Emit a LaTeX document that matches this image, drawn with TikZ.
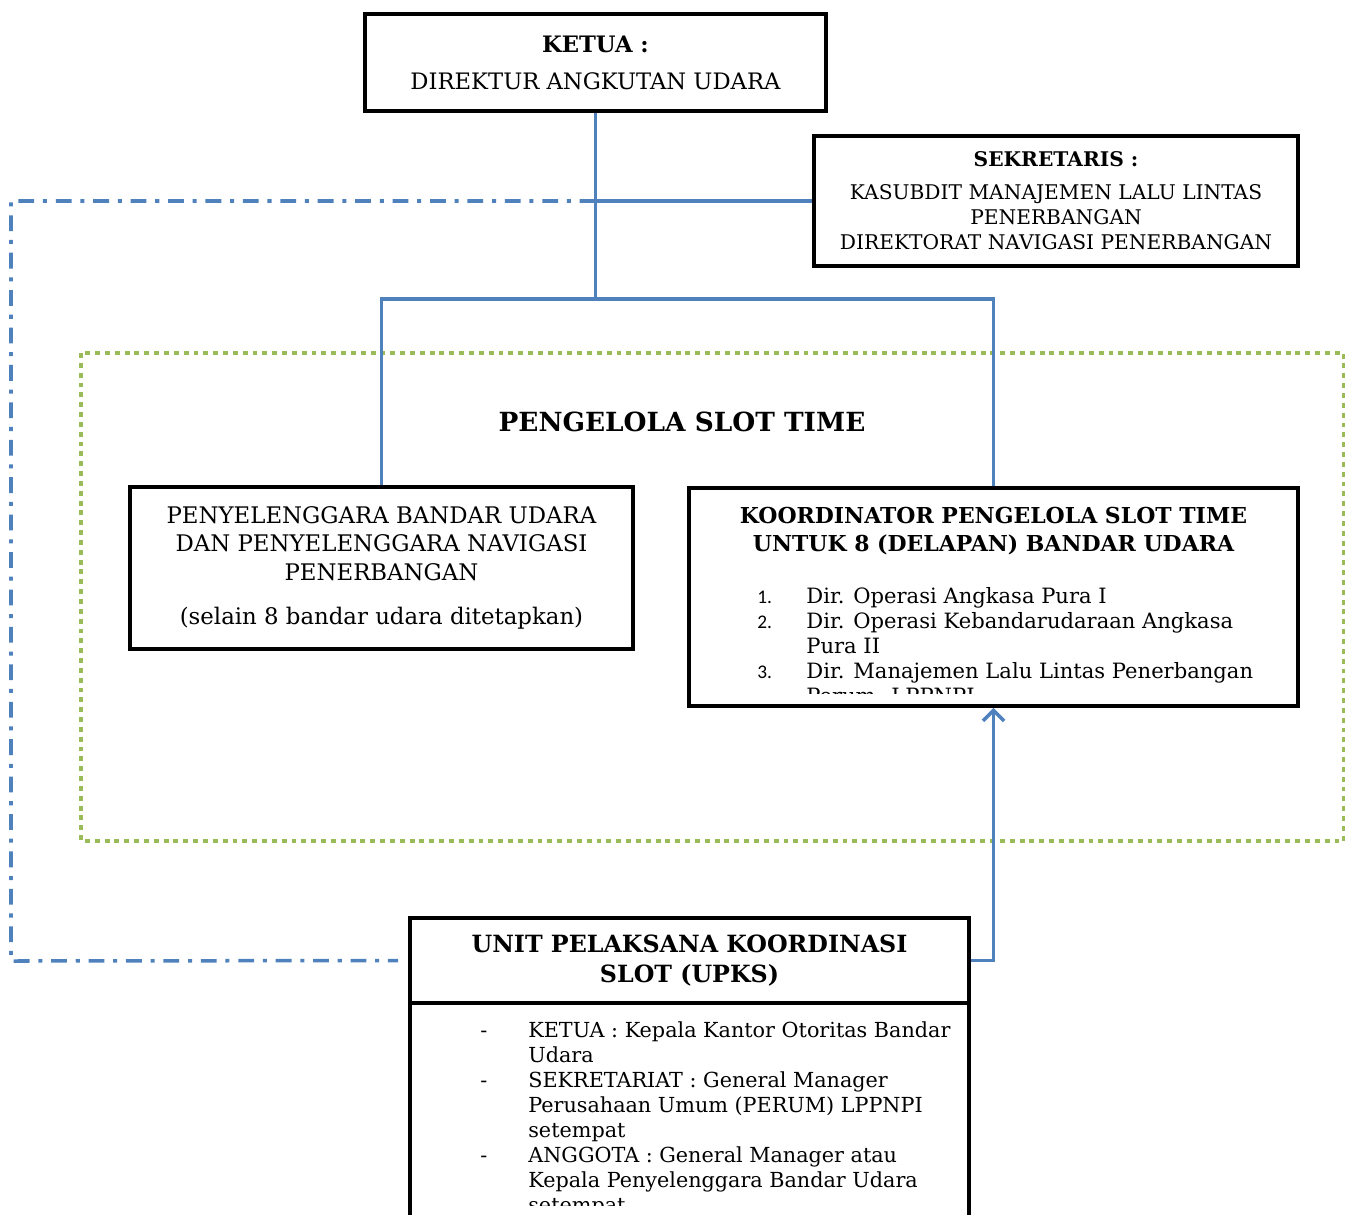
\documentclass[tikz,border=0pt]{standalone}
\usepackage{fontspec}
\setmainfont{DejaVu Serif}
\setsansfont{Carlito}
\usetikzlibrary{arrows.meta, positioning}

\definecolor{linkblue}{RGB}{79,129,189}
\definecolor{zonegreen}{RGB}{155,187,89}

\tikzset{
  box/.style={draw, line width=2.2pt, inner sep=0pt},
  link/.style={draw=linkblue, line width=2.2pt},
  ctrl/.style={draw=linkblue, line width=2pt, dash pattern=on 9pt off 5pt on 2.3pt off 5pt},
  zone/.style={draw=zonegreen, line width=2.4pt, dash pattern=on 2.8pt off 2.8pt},
}
\newcommand{\bodyfont}{\fontsize{12}{14.2}\selectfont}
\newcommand{\numfont}{\sffamily\fontsize{11}{14.2}\selectfont}

\begin{document}
\begin{tikzpicture}[x=0.02cm, y=-0.02cm]
        \useasboundingbox (0,0) rectangle (1345,1214);
        \clip (0,0) rectangle (1345,1214);

        % zone of the slot time managers
        \draw[zone] (81,353) rectangle (1344,841);
        \node[font=\fontsize{15}{18}\selectfont\bfseries] (zonetitle) at (682,422) {PENGELOLA SLOT TIME};

        \node[box, minimum width=9.22cm, minimum height=1.94cm, align=center, font=\fontsize{12.9}{15}\selectfont] (ketua) at (595.5,62.5)
            {\textbf{KETUA :}\\[6pt]DIREKTUR ANGKUTAN UDARA};
        \node[box, minimum width=9.68cm, minimum height=2.6cm, align=center, font=\fontsize{11.5}{14.2}\selectfont] (sekre) at (1056,201)
            {\textbf{SEKRETARIS :}\\[4.5pt]KASUBDIT MANAJEMEN LALU LINTAS\\PENERBANGAN\\DIREKTORAT NAVIGASI PENERBANGAN};
        \node[box, minimum width=10.06cm, minimum height=3.24cm, align=center, font=\fontsize{13}{16.2}\selectfont] (penye) at (381.5,568)
            {PENYELENGGARA BANDAR UDARA\\DAN PENYELENGGARA NAVIGASI\\PENERBANGAN\\[9pt](selain 8 bandar udara ditetapkan)};
        \node[box, minimum width=12.18cm, minimum height=4.36cm] (koord) at (993.5,597) {};
        \node[align=center, font=\fontsize{12.5}{15.9}\selectfont\bfseries] (koordhead) at (993.5,531)
            {KOORDINATOR PENGELOLA SLOT TIME\\UNTUK 8 (DELAPAN) BANDAR UDARA};
        \begin{scope}
            \clip (692,560) rectangle (1295,693);
            \node[anchor=north west, inner sep=0pt, font=\bodyfont] (koordlist) at (757,586)
                {\begin{tabular}{@{}p{0.98cm}@{}l@{}}
                {\numfont 1.} & Dir. Operasi Angkasa Pura I\\
                {\numfont 2.} & Dir. Operasi Kebandarudaraan Angkasa\\
                 & Pura II\\
                {\numfont 3.} & Dir. Manajemen Lalu Lintas Penerbangan\\
                 & Perum. LPPNPI
                \end{tabular}};
        \end{scope}

        \node[box, minimum width=11.18cm, minimum height=1.7cm, align=center, font=\fontsize{13.5}{17.6}\selectfont\bfseries] (upkshead) at (689.5,960.5)
            {UNIT PELAKSANA KOORDINASI\\SLOT (UPKS)};
        \node[box, minimum width=11.18cm, minimum height=5.4cm, below=-2.2pt of upkshead] (upksbody) {};
        \begin{scope}
            \clip (412,1005) rectangle (967,1205);
            \node[anchor=north west, inner sep=0pt, font=\fontsize{11.8}{14.2}\selectfont] (upkslist) at (480,1020)
                {\begin{tabular}{@{}p{0.96cm}@{}l@{}}
                - & KETUA : Kepala Kantor Otoritas Bandar\\
                 & Udara\\
                - & SEKRETARIAT : General Manager\\
                 & Perusahaan Umum (PERUM) LPPNPI\\
                 & setempat\\
                - & ANGGOTA : General Manager atau\\
                 & Kepala Penyelenggara Bandar Udara\\
                 & setempat
                \end{tabular}};
        \end{scope}

        \coordinate (mid) at (595.5,201);
        \coordinate (hub) at (595.5,299);
        \coordinate (corner) at (11,961);

        \draw[link] (ketua.south) -- (hub);
        \draw[link] (mid) -- (sekre.west);
        \draw[link] (penye.north) |- (hub) -| (koord.north);
        \draw[link, -{Straight Barb[length=6pt, width=12pt, line width=2pt]}] (upkshead.east) -| (koord.south);
        \draw[ctrl, shorten >=5.7pt] (mid) -| (corner) -- (upkshead.west);
    \end{tikzpicture}
\end{document}
